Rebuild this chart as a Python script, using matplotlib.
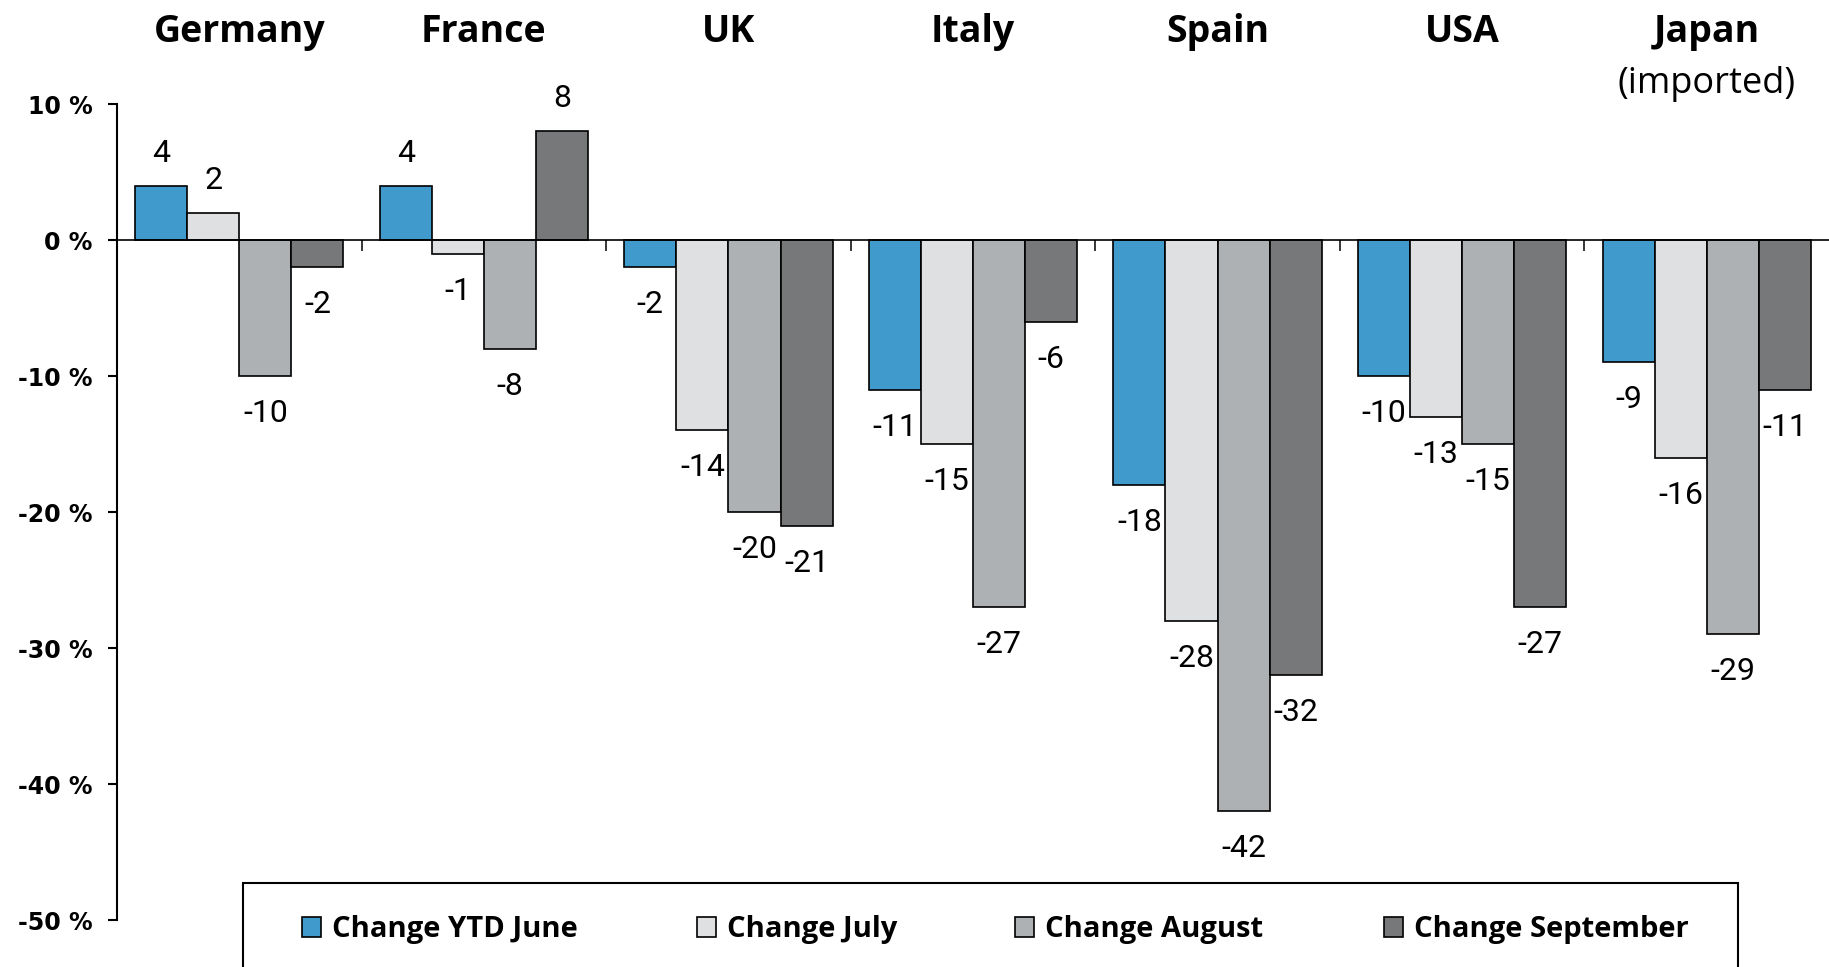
import matplotlib
matplotlib.use('Agg')
import matplotlib.pyplot as plt
import matplotlib.transforms as mtransforms
from matplotlib.patches import Rectangle
import numpy as np

countries = ['Germany', 'France', 'UK', 'Italy', 'Spain', 'USA', 'Japan']
series_names = ['Change YTD June', 'Change July', 'Change August', 'Change September']
change_ytd_june = [4, 4, -2, -11, -18, -10, -9]
change_july = [2, -1, -14, -15, -28, -13, -16]
change_august = [-10, -8, -20, -27, -42, -15, -29]
change_september = [-2, 8, -21, -6, -32, -27, -11]
y_ticks = [10, 0, -10, -20, -30, -40, -50]

colors = ['#409acb', '#dfe0e2', '#aeb1b4', '#77787a']
W, H = 1829, 967


def draw_chart(filename='out.png'):
    '''
    Grouped bar chart of the monthly changes per country.
    :param filename: where the figure is saved
    '''
    fig = plt.figure(figsize=(W / 100, H / 100), dpi=100)
    ax = fig.add_axes([117 / W, 1 - 920 / H, 1 - 117 / W, (920 - 104) / H])

    series = [change_ytd_june, change_july, change_august, change_september]
    x = np.arange(len(countries))
    width = 0.213
    for i, values in enumerate(series):
        pos = x + (i - 1.5) * width
        ax.bar(pos, values, width, color=colors[i], edgecolor='black',
               linewidth=1.2, zorder=3)
        for px, v in zip(pos, values):
            if v >= 0:
                ax.annotate(str(v), (px, v), xytext=(0, 13), textcoords='offset points',
                            ha='center', va='bottom', fontsize=23, family='Roboto')
            else:
                ax.annotate(str(v), (px, v), xytext=(0, -16.5), textcoords='offset points',
                            ha='center', va='top', fontsize=23, family='Roboto')

    ax.set_xlim(-0.5, len(countries) - 0.5)
    ax.set_ylim(-50, 10)

    # axes: left spine plus a baseline at 0 with small group separators
    for side in ['top', 'right']:
        ax.spines[side].set_visible(False)
    ax.spines['bottom'].set_position(('data', 0))
    ax.spines['bottom'].set_linewidth(1.2)
    ax.spines['bottom'].set_zorder(4)
    ax.spines['left'].set_linewidth(1.5)
    ax.set_xticks(np.arange(0.5, len(countries) - 0.5, 1))
    ax.tick_params(axis='x', direction='out', length=8, width=1.1, labelbottom=False)
    ax.set_yticks(y_ticks)
    ax.set_yticklabels([f'{t} %' for t in y_ticks])
    ax.tick_params(axis='y', direction='out', length=6.5, width=1.5, pad=11)
    for lbl in ax.get_yticklabels():
        lbl.set_fontsize(17)
        lbl.set_fontweight('bold')
        lbl.set_family('DejaVu Sans')

    # country names above the plot
    trans = mtransforms.blended_transform_factory(ax.transData, fig.transFigure)
    for xi, name in zip(x, countries):
        ax.text(xi, 1 - 42 / H, name, transform=trans, ha='center', va='baseline',
                fontsize=27, fontweight='bold', family='Open Sans')
    ax.text(x[-1], 1 - 93 / H, '(imported)', transform=trans, ha='center', va='baseline',
            fontsize=26, family='Open Sans')

    # legend box, cut by the bottom edge
    fig.add_artist(Rectangle((243 / W, -0.05), (1738 - 243) / W, 0.05 + 1 - 883 / H,
                             transform=fig.transFigure, facecolor='white',
                             edgecolor='black', linewidth=1.5, clip_on=False))
    marker_x = [302, 697, 1015, 1384]
    for mx, name, c in zip(marker_x, series_names, colors):
        fig.add_artist(Rectangle((mx / W, 1 - 937 / H), 19 / W, 20 / H,
                                 transform=fig.transFigure, facecolor=c,
                                 edgecolor='black', linewidth=1.2))
        fig.text((mx + 30) / W, 1 - 937.5 / H, name, ha='left', va='baseline',
                 fontsize=21, fontweight='bold', family='Open Sans')

    fig.savefig(filename, dpi=100)
    plt.close(fig)


draw_chart()
